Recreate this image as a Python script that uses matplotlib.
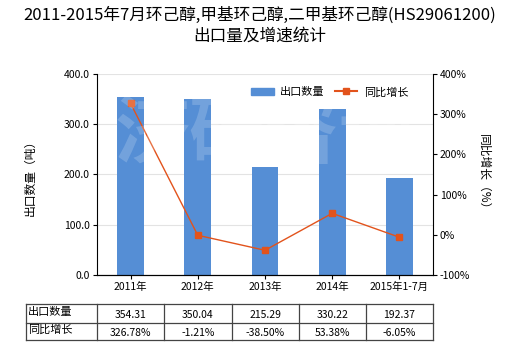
import matplotlib
matplotlib.use("Agg")
import matplotlib.pyplot as plt
from matplotlib.lines import Line2D
from matplotlib.patches import Patch

plt.rcParams['font.family'] = ['Noto Sans CJK SC', 'DejaVu Sans']

years = ["2011年", "2012年", "2013年", "2014年", "2015年1-7月"]
export_qty = [354.31, 350.04, 215.29, 330.22, 192.37]
yoy_growth = [326.78, -1.21, -38.50, 53.38, -6.05]
row_names = ["出口数量", "同比增长"]

bar_color = "#558ed5"
line_color = "#e2531c"

fig = plt.figure(figsize=(5.2, 3.5), dpi=100)
ax = fig.add_axes([0.1865, 0.2143, 0.6462, 0.5743])
x = list(range(len(years)))

ax.bar(x, export_qty, width=0.4, color=bar_color, zorder=2)
ax.set_xlim(-0.5, len(years) - 0.5)
ax.set_ylim(0, 400)
ax.set_yticks([0, 100, 200, 300, 400])
ax.set_yticklabels([f"{v:.1f}" for v in [0, 100, 200, 300, 400]], fontsize=7.5)
ax.set_xticks(x)
ax.set_xticklabels(years, fontsize=7.5)
ax.grid(axis="y", color="#e3e3e3", linewidth=0.8, zorder=0)
ax.tick_params(length=3, width=0.8, pad=2)
for s in ("top", "right"):
    ax.spines[s].set_visible(False)
ax.set_ylabel("出口数量（吨）", fontsize=8.5, labelpad=20)

ax2 = ax.twinx()
ax2.plot(x, yoy_growth, color=line_color, linewidth=1, marker="s",
         markersize=4, zorder=3)
ax2.set_ylim(-100, 400)
ax2.set_yticks([-100, 0, 100, 200, 300, 400])
ax2.set_yticklabels([f"{v}%" for v in [-100, 0, 100, 200, 300, 400]], fontsize=7.5)
ax2.tick_params(length=3, width=0.8, pad=2)
ax2.spines["top"].set_visible(False)
ax2.spines["left"].set_visible(False)
ax2.set_ylabel("同比增长（%）", fontsize=8.5, rotation=270, labelpad=14)

# faint watermark across the plot
ax2.text(0.5, 0.7, "济研咨询", transform=ax.transAxes, fontsize=54,
         color="white", alpha=0.18, ha="center", va="center",
         fontweight="bold", zorder=5)

handles = [Patch(color=bar_color),
           Line2D([], [], color=line_color, marker="s", markersize=4, linewidth=1.5)]
ax2.legend(handles, ["出口数量", "同比增长"], loc="upper left",
           bbox_to_anchor=(0.43, 0.985), ncol=2, frameon=False, fontsize=8,
           handlelength=2.0, handletextpad=0.6, columnspacing=0.9)

fig.suptitle("2011-2015年7月环己醇,甲基环己醇,二甲基环己醇(HS29061200)\n出口量及增速统计",
             fontsize=12, y=0.98, linespacing=1.3)

# data table under the chart
col_edges = [26, 96.5, 164, 232, 299, 366, 433]
row_edges = [304, 322.5, 340]
W, H = 520.0, 350.0
for xe in col_edges:
    fig.add_artist(Line2D([xe / W, xe / W], [1 - row_edges[0] / H, 1 - row_edges[-1] / H],
                          color="#444444", linewidth=0.9))
for ye in row_edges:
    fig.add_artist(Line2D([col_edges[0] / W, col_edges[-1] / W], [1 - ye / H, 1 - ye / H],
                          color="#444444", linewidth=0.9))

rows = [[f"{v:.2f}" for v in export_qty], [f"{v:.2f}%" for v in yoy_growth]]
for r, (name, vals) in enumerate(zip(row_names, rows)):
    yc = 1 - (row_edges[r] + row_edges[r + 1]) / 2 / H
    fig.text((col_edges[0] + 2) / W, yc + 0.004, name, fontsize=8, ha="left", va="center")
    for c, v in enumerate(vals):
        xc = (col_edges[c + 1] + col_edges[c + 2]) / 2 / W
        fig.text(xc, yc - 0.004, v, fontsize=7.5, ha="center", va="center")

fig.savefig("out.png", dpi=100)
